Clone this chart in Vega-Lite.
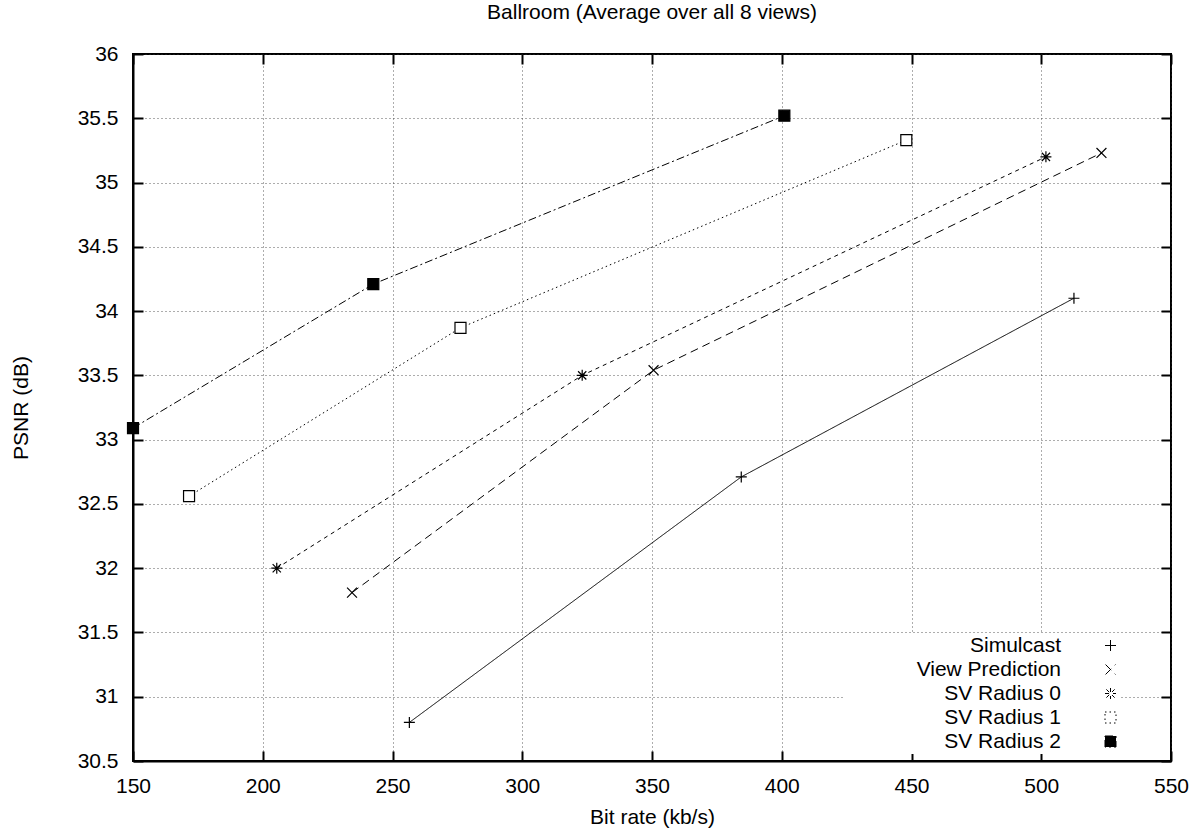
{
  "$schema": "https://vega.github.io/schema/vega-lite/v6.json",
  "width": 1038,
  "height": 707,
  "autosize": {"type": "none"},
  "padding": {"left": 133, "top": 54, "right": 28, "bottom": 72},
  "config": {
    "font": "Liberation Sans",
    "view": {"stroke": "black", "strokeWidth": 2},
    "axis": {
      "labelFontSize": 21,
      "labelColor": "black",
      "labelFlush": false,
      "titleFontSize": 21,
      "titleFontWeight": "normal",
      "titleColor": "black",
      "tickColor": "black",
      "tickWidth": 2,
      "tickSize": -10,
      "domainColor": "black",
      "domainWidth": 2,
      "gridColor": "#333",
      "gridDash": [1, 3],
      "gridWidth": 1,
      "gridOpacity": 0.8
    },
    "legend": {
      "labelFontSize": 21,
      "labelColor": "black"
    }
  },
  "title": {"text": "Ballroom (Average over all 8 views)", "fontSize": 21, "fontWeight": "normal", "color": "black", "offset": 20},
  "data": {
    "values": [
      {"series": "Simulcast", "rate": 256.5, "psnr": 30.80},
      {"series": "Simulcast", "rate": 384.4, "psnr": 32.71},
      {"series": "Simulcast", "rate": 512.6, "psnr": 34.10},
      {"series": "View Prediction", "rate": 234.4, "psnr": 31.81},
      {"series": "View Prediction", "rate": 350.6, "psnr": 33.54},
      {"series": "View Prediction", "rate": 523.2, "psnr": 35.23},
      {"series": "SV Radius 0", "rate": 205.4, "psnr": 32.00},
      {"series": "SV Radius 0", "rate": 323.1, "psnr": 33.50},
      {"series": "SV Radius 0", "rate": 501.8, "psnr": 35.20},
      {"series": "SV Radius 1", "rate": 171.6, "psnr": 32.56},
      {"series": "SV Radius 1", "rate": 276.2, "psnr": 33.87},
      {"series": "SV Radius 1", "rate": 448.0, "psnr": 35.33},
      {"series": "SV Radius 2", "rate": 150.0, "psnr": 33.09},
      {"series": "SV Radius 2", "rate": 242.6, "psnr": 34.21},
      {"series": "SV Radius 2", "rate": 401.0, "psnr": 35.52}
    ]
  },
  "resolve": {"axis": {"x": "independent", "y": "independent"}},
  "layer": [
    {
      "mark": {"type": "line", "color": "black", "strokeWidth": 1},
      "encoding": {
        "x": {"field": "rate", "type": "quantitative", "scale": {"domain": [150, 550], "nice": false, "zero": false},
              "axis": {"title": "Bit rate (kb/s)", "format": "d", "values": [150, 200, 250, 300, 350, 400, 450, 500, 550], "labelPadding": 24, "titlePadding": 10}},
        "y": {"field": "psnr", "type": "quantitative", "scale": {"domain": [30.5, 36], "nice": false, "zero": false},
              "axis": {"title": "PSNR (dB)", "format": "~g", "values": [30.5, 31, 31.5, 32, 32.5, 33, 33.5, 34, 34.5, 35, 35.5, 36], "labelPadding": 25, "titlePadding": 46}},
        "strokeDash": {"field": "series", "type": "nominal",
          "scale": {"domain": ["Simulcast", "View Prediction", "SV Radius 0", "SV Radius 1", "SV Radius 2"],
                    "range": [[1, 0], [8, 5], [4, 4], [1.5, 3], [8, 3, 2, 3]]},
          "legend": {"title": null, "orient": "none", "legendX": 712, "legendY": 579, "padding": 2, "rowPadding": 2,
                     "fillColor": "white", "symbolType": "square", "symbolSize": 121, "symbolStrokeWidth": 1, "symbolStrokeColor": "black",
                     "symbolOffset": 253, "labelAlign": "right", "labelOffset": -60,
                     "encode": {"symbols": {"update": {
                       "fill": {"signal": "datum.value === 'SV Radius 2' ? 'black' : 'transparent'"},
                       "stroke": {"value": "black"},
                       "strokeWidth": {"value": 1},
                       "opacity": {"value": 1}
                     }}}}}
      }
    },
    {
      "mark": {"type": "point", "stroke": "black", "strokeWidth": 1.2, "opacity": 1, "size": 121},
      "encoding": {
        "x": {"field": "rate", "type": "quantitative", "axis": {"orient": "top", "labels": false, "title": null, "grid": false, "domain": false, "values": [150, 200, 250, 300, 350, 400, 450, 500, 550]}},
        "y": {"field": "psnr", "type": "quantitative", "axis": {"orient": "right", "labels": false, "title": null, "grid": false, "domain": false, "values": [30.5, 31, 31.5, 32, 32.5, 33, 33.5, 34, 34.5, 35, 35.5, 36]}},
        "shape": {"field": "series", "type": "nominal",
          "scale": {"domain": ["Simulcast", "View Prediction", "SV Radius 0", "SV Radius 1", "SV Radius 2"],
                    "range": ["M-1,0H1M0,-1V1", "M-0.9,-0.9L0.9,0.9M-0.9,0.9L0.9,-0.9", "M-1,0H1M0,-1V1M-0.75,-0.75L0.75,0.75M-0.75,0.75L0.75,-0.75", "square", "square"]},
          "legend": null},
        "fill": {"field": "series", "type": "nominal",
          "scale": {"domain": ["Simulcast", "View Prediction", "SV Radius 0", "SV Radius 1", "SV Radius 2"],
                    "range": ["transparent", "transparent", "transparent", "white", "black"]},
          "legend": null}
      }
    }
  ]
}
